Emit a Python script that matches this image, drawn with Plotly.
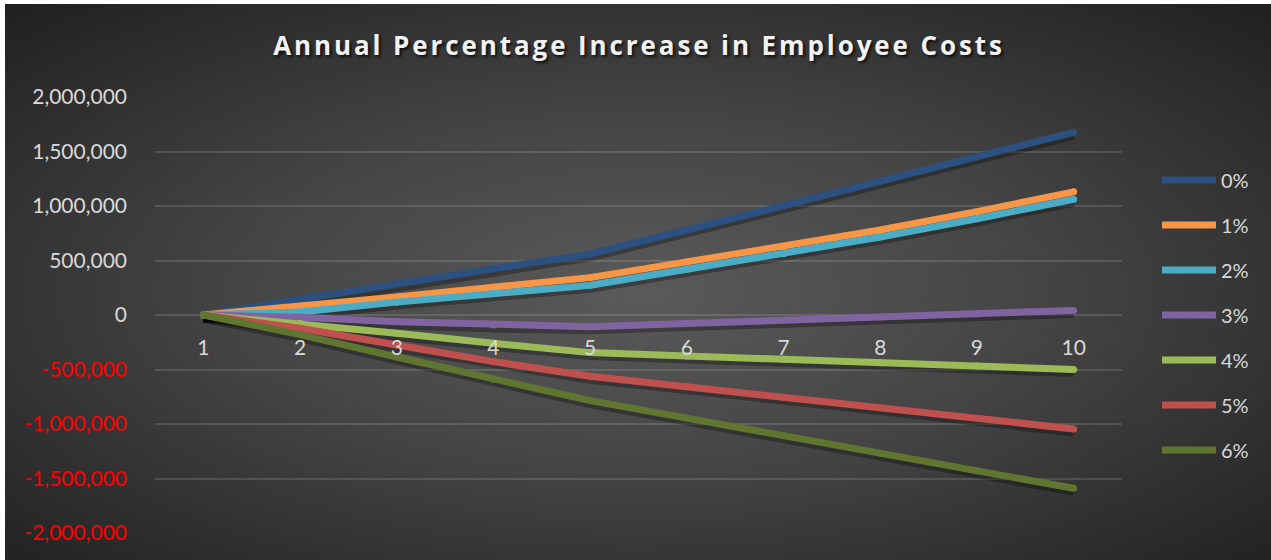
import base64
import plotly.graph_objects as go

# ---- data ----
years = [1, 2, 3, 4, 5, 6, 7, 8, 9, 10]
series_names = ["0%", "1%", "2%", "3%", "4%", "5%", "6%"]
s0 = [0, 135000, 285000, 425000, 560000, 780000, 1000000, 1225000, 1450000, 1675000]
s1 = [0, 75000, 165000, 255000, 343000, 487000, 627000, 780000, 948000, 1130000]
s2 = [0, 28000, 118000, 197000, 273000, 420000, 562000, 715000, 883000, 1062000]
s3 = [0, -21000, -61000, -92000, -107000, -78000, -48000, -19000, 11000, 42000]
s4 = [0, -76000, -168000, -260000, -345000, -376000, -407000, -438000, -469000, -500000]
s5 = [0, -122000, -275000, -428000, -562000, -657000, -754000, -851000, -948000, -1045000]
s6 = [0, -180000, -385000, -590000, -785000, -946000, -1107000, -1268000, -1429000, -1590000]
series_values = [s0, s1, s2, s3, s4, s5, s6]
colors = ["#2C5080", "#F79646", "#4BACC6", "#8064A2", "#9BBB59", "#C0504D", "#5F7530"]

y_tickvals = [2000000, 1500000, 1000000, 500000, 0, -500000, -1000000, -1500000, -2000000]
chart_title = "Annual Percentage Increase in Employee Costs"

# ---- layout geometry (pixels) ----
W, H = 1271, 560
L, R, T, B = 155, 1122, 97, 533
PW, PH = R - L, B - T
Y_RANGE = [-2000000, 2000000]
SHADOW_PX = 3
per_px = (Y_RANGE[1] - Y_RANGE[0]) / PH


def px_x(x):
    return (x - L) / PW


def px_y(y):
    return (B - y) / PH


def fmt(v):
    s = f"{abs(v):,}"
    if v < 0:
        return f"<span style='color:#FF0000'>-{s}</span>"
    return s


fig = go.Figure()
# soft shadows (same data on a hidden base axis whose range is offset a few pixels)
for vals in series_values:
    fig.add_trace(go.Scatter(
        x=years, y=vals, mode="lines", xaxis="x", yaxis="y",
        line=dict(color="rgba(0,0,0,0.30)", width=9),
        showlegend=False, hoverinfo="skip",
    ))
# the real series, on the visible value axis (y2)
for name, vals, col in zip(series_names, series_values, colors):
    fig.add_trace(go.Scatter(
        x=years, y=vals, name=name, mode="lines+markers", xaxis="x", yaxis="y2",
        line=dict(color=col, width=7),
        marker=dict(color=col, size=7, line=dict(width=0)),
        showlegend=False,
    ))

# background radial gradient as svg image
bw, bh = W - 5, H - 4
svg = (
    f'<svg xmlns="http://www.w3.org/2000/svg" width="{bw}" height="{bh}" viewBox="0 0 {bw} {bh}" preserveAspectRatio="none">'
    '<defs><radialGradient id="g" cx="0.5" cy="0.52" r="0.72">'
    '<stop offset="0" stop-color="#5a5a5a"/><stop offset="0.45" stop-color="#444444"/>'
    '<stop offset="1" stop-color="#202020"/></radialGradient></defs>'
    f'<rect width="{bw}" height="{bh}" fill="url(#g)"/></svg>'
)
src = "data:image/svg+xml;base64," + base64.b64encode(svg.encode()).decode()
fig.add_layout_image(dict(
    source=src, xref="paper", yref="paper",
    x=px_x(5), y=px_y(4), sizex=bw / PW, sizey=bh / PH,
    xanchor="left", yanchor="top", sizing="stretch", layer="below",
))

# manual legend
shapes = []
annotations = []
for i, (name, col) in enumerate(zip(series_names, colors)):
    yy = 180 + 45 * i
    shapes.append(dict(type="line", xref="paper", yref="paper",
                       x0=px_x(1162), x1=px_x(1216), y0=px_y(yy), y1=px_y(yy),
                       line=dict(color=col, width=7)))
    annotations.append(dict(xref="paper", yref="paper", x=px_x(1219), y=px_y(yy),
                            text=name, showarrow=False, xanchor="left", yanchor="middle",
                            font=dict(family="Lato", size=20, color="#D9D9D9")))

fig.update_layout(
    width=W, height=H,
    margin=dict(l=L, r=W - R, t=T, b=H - B),
    paper_bgcolor="#FFFFFF",
    plot_bgcolor="rgba(0,0,0,0)",
    title=dict(
        text=f"<span style='letter-spacing:2.9px'>{chart_title}</span>",
        x=639 / W, xanchor="center", xref="container",
        y=1 - 46 / H, yanchor="middle", yref="container",
        font=dict(family="Open Sans", size=26, color="#F2F2F2", weight="bold",
                  shadow="2px 2px 3px rgba(0,0,0,0.75)"),
    ),
    xaxis=dict(
        range=[0.5, 10.5], tickvals=years, ticktext=[str(v) for v in years],
        showgrid=False, zeroline=False, showline=False,
        anchor="free", position=0.5, ticks="", ticklabelstandoff=18,
        tickfont=dict(family="Lato", size=21, color="#D9D9D9"),
    ),
    yaxis=dict(
        range=[Y_RANGE[0] + SHADOW_PX * per_px, Y_RANGE[1] + SHADOW_PX * per_px],
        visible=False, showgrid=False, zeroline=False,
    ),
    yaxis2=dict(
        range=Y_RANGE, tickvals=y_tickvals, overlaying="y", side="left",
        ticktext=[fmt(v) for v in y_tickvals],
        showgrid=True, gridcolor="rgba(255,255,255,0.13)", gridwidth=1.5,
        zeroline=False, showline=False, ticks="", ticklabelstandoff=27,
        tickfont=dict(family="Lato", size=21, color="#D9D9D9"),
    ),
    shapes=shapes,
    annotations=annotations,
)

fig.write_html("out.html", config={"displayModeBar": False},
               post_script="document.body.style.margin='0px';")
